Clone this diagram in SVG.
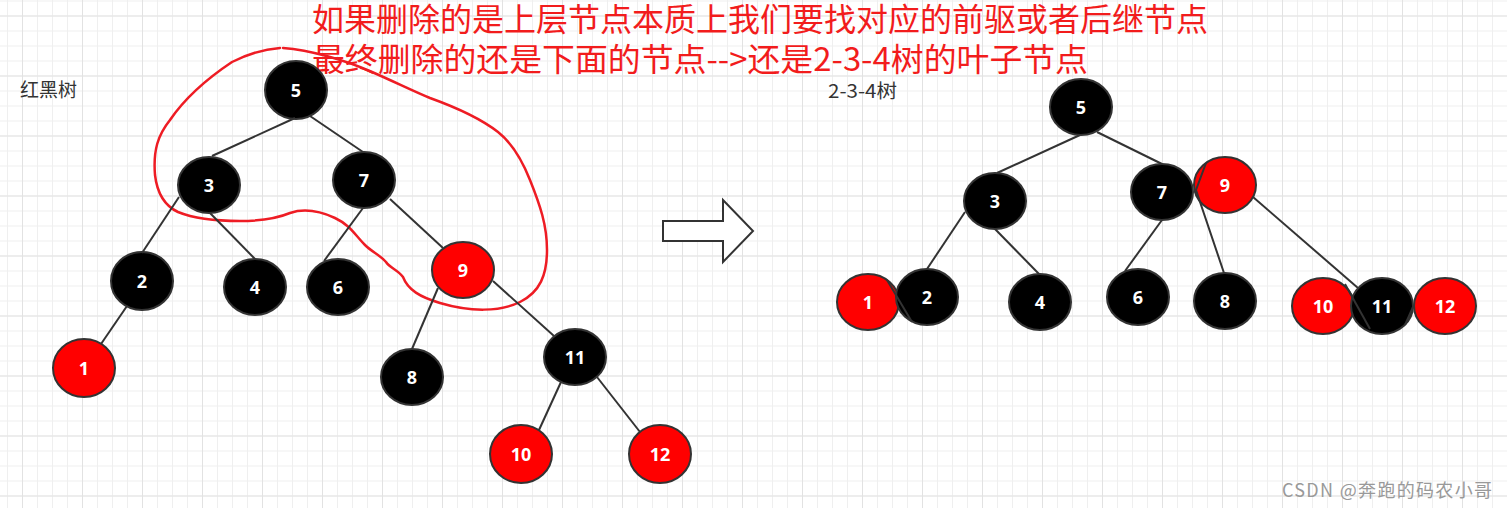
<svg xmlns="http://www.w3.org/2000/svg" width="1507" height="508" viewBox="0 0 1507 508">
<style>
.n ellipse{stroke:#333;stroke-width:2}
.b ellipse{fill:#000}
.r ellipse{fill:#ff0000}
.n text{fill:#fff;font-family:"Noto Sans","Open Sans",sans-serif;font-weight:bold;font-size:18px;text-anchor:middle;dominant-baseline:central}
.e line,.e polyline{stroke:#333;stroke-width:2;fill:none}
.lbl{font-family:"Noto Sans CJK SC","Noto Sans",sans-serif;font-size:19px;fill:#333}
.title{font-family:"Noto Sans CJK SC","Noto Sans",sans-serif;font-size:32px;fill:#f21c1c}
</style>
<defs>
<pattern id="minor" patternUnits="userSpaceOnUse" x="7" y="0.5" width="15" height="15">
<rect x="0" y="0" width="1" height="15" fill="#efefef"/>
<rect x="0" y="0" width="15" height="1" fill="#efefef"/>
</pattern>
<pattern id="major" patternUnits="userSpaceOnUse" x="22" y="15.5" width="60" height="60">
<rect x="0" y="0" width="1" height="60" fill="#e2e2e2"/>
<rect x="0" y="0" width="60" height="1" fill="#e2e2e2"/>
</pattern>
</defs>
<rect width="1507" height="508" fill="#fff"/>
<rect width="1507" height="508" fill="url(#minor)"/>
<rect width="1507" height="508" fill="url(#major)"/>

<text class="lbl" x="20" y="97">红黑树</text>
<text class="lbl" x="828" y="98" textLength="69" lengthAdjust="spacingAndGlyphs">2-3-4树</text>
<text class="title" x="312" y="31">如果删除的是上层节点本质上我们要找对应的前驱或者后继节点</text>
<text class="title" x="312" y="71" textLength="776" lengthAdjust="spacingAndGlyphs">最终删除的还是下面的节点--&gt;还是2-3-4树的叶子节点</text>

<path id="outline" d="M283,48 C310,50 345,60 372,72 C395,82 415,92 430,98 C455,107 480,118 498,132 C512,143 522,160 530,180 C540,205 547,225 547,250 C547,275 540,292 520,302 C500,312 470,312 440,303 C420,297 408,290 403,277 C398,270 390,268 386,262 C380,255 372,252 365,245 C355,235 350,225 335,218 C322,212 305,208 290,213 C278,218 265,221 240,221 C215,221 195,219 178,212 C163,205 157,192 155,175 C153,150 158,135 170,120 C185,98 205,80 232,62 C248,54 265,49 280,48" fill="none" stroke="#ee1c24" stroke-width="2.5" stroke-linecap="round"/>

<polygon id="arrow" points="663,221 723,221 723,200 753,231 723,262 723,241 663,241" fill="#fff" stroke="#333" stroke-width="2"/>

<g id="nodes-left">
<g id="L5" class="n b"><ellipse cx="296" cy="90" rx="31" ry="29"/><text x="296" y="90">5</text></g>
<g id="L3" class="n b"><ellipse cx="209" cy="185" rx="31" ry="28"/><text x="209" y="185">3</text></g>
<g id="L7" class="n b"><ellipse cx="364" cy="180" rx="31" ry="28"/><text x="364" y="180">7</text></g>
<g id="L2" class="n b"><ellipse cx="142" cy="281" rx="31" ry="29"/><text x="142" y="281">2</text></g>
<g id="L4" class="n b"><ellipse cx="255" cy="287" rx="31" ry="28"/><text x="255" y="287">4</text></g>
<g id="L6" class="n b"><ellipse cx="338" cy="287" rx="31" ry="28"/><text x="338" y="287">6</text></g>
<g id="L9" class="n r"><ellipse cx="463" cy="270" rx="31" ry="28"/><text x="463" y="270">9</text></g>
<g id="L1" class="n r"><ellipse cx="84" cy="368" rx="31" ry="29"/><text x="84" y="368">1</text></g>
<g id="L8" class="n b"><ellipse cx="412" cy="377" rx="31" ry="28"/><text x="412" y="377">8</text></g>
<g id="L11" class="n b"><ellipse cx="575" cy="357" rx="31" ry="28"/><text x="575" y="357">11</text></g>
<g id="L10" class="n r"><ellipse cx="521" cy="454" rx="31" ry="29"/><text x="521" y="454">10</text></g>
<g id="L12" class="n r"><ellipse cx="660" cy="454" rx="31" ry="29"/><text x="660" y="454">12</text></g>
</g>

<g id="nodes-right">
<g id="R5" class="n b"><ellipse cx="1081" cy="107" rx="31" ry="28"/><text x="1081" y="107">5</text></g>
<g id="R3" class="n b"><ellipse cx="995" cy="201" rx="31" ry="28"/><text x="995" y="201">3</text></g>
<g id="R7" class="n b"><ellipse cx="1162" cy="192" rx="31" ry="28"/><text x="1162" y="192">7</text></g>
<g id="R9" class="n r"><ellipse cx="1225" cy="185" rx="31" ry="28"/><text x="1225" y="185">9</text></g>
<g id="R1" class="n r"><ellipse cx="868" cy="302" rx="31" ry="28"/><text x="868" y="302">1</text></g>
<g id="R2" class="n b"><ellipse cx="927" cy="297" rx="31" ry="28"/><text x="927" y="297">2</text></g>
<g id="R4" class="n b"><ellipse cx="1040" cy="302" rx="31" ry="28"/><text x="1040" y="302">4</text></g>
<g id="R6" class="n b"><ellipse cx="1138" cy="297" rx="31" ry="28"/><text x="1138" y="297">6</text></g>
<g id="R8" class="n b"><ellipse cx="1225" cy="301" rx="31" ry="28"/><text x="1225" y="301">8</text></g>
<g id="R10" class="n r"><ellipse cx="1323" cy="306" rx="31" ry="28"/><text x="1323" y="306">10</text></g>
<g id="R11" class="n b"><ellipse cx="1382" cy="306" rx="31" ry="28"/><text x="1382" y="306">11</text></g>
<g id="R12" class="n r"><ellipse cx="1445" cy="306" rx="31" ry="28"/><text x="1445" y="306">12</text></g>
</g>

<g id="connectors" class="e">
<line x1="295" y1="118" x2="212" y2="156"/>
<line x1="310" y1="116" x2="363" y2="152"/>
<line x1="179" y1="197" x2="142" y2="253"/>
<line x1="210" y1="213" x2="255" y2="259"/>
<line x1="363" y1="208" x2="324" y2="261"/>
<line x1="390" y1="199" x2="443" y2="248"/>
<line x1="438" y1="288" x2="412" y2="349"/>
<line x1="493" y1="281" x2="554" y2="336"/>
<line x1="127" y1="306" x2="101" y2="344"/>
<line x1="561" y1="382" x2="539" y2="430"/>
<line x1="597" y1="377" x2="640" y2="432"/>
<line x1="1080" y1="135" x2="997" y2="173"/>
<line x1="1097" y1="132" x2="1162" y2="164"/>
<line x1="965" y1="212" x2="927" y2="269"/>
<line x1="995" y1="229" x2="1039" y2="274"/>
<line x1="1162" y1="220" x2="1125" y2="271"/>
<polyline points="1206,163 1196,190 1224,273"/>
<line x1="1253" y1="197" x2="1358" y2="288"/>
<line x1="887" y1="280" x2="912" y2="322"/>
<line x1="1345" y1="284" x2="1370" y2="329"/>
<line x1="1405" y1="325" x2="1413" y2="307"/>
</g>

<text x="1282" y="497" font-family="Noto Sans CJK SC, Noto Sans, sans-serif" font-size="18" fill="#999" textLength="210" lengthAdjust="spacing">CSDN @奔跑的码农小哥</text>
</svg>
